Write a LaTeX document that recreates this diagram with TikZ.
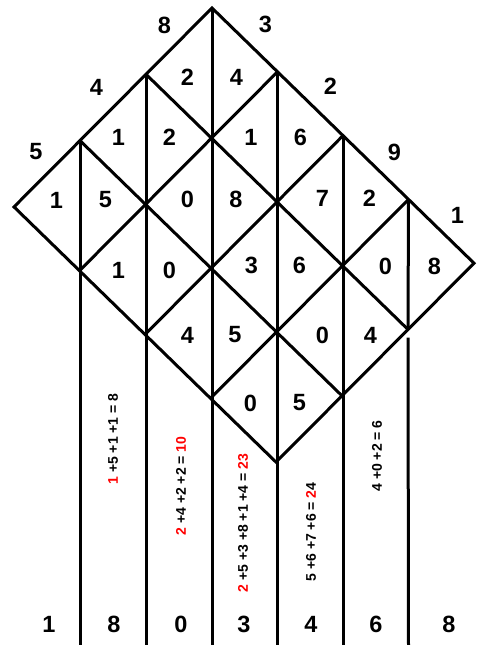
\documentclass[tikz,border=0pt]{standalone}
\usepackage{fontspec}
\setmainfont{Liberation Sans}
\begin{document}
\begin{tikzpicture}[x=1pt,y=-1pt,
  gridline/.style={line width=3pt, black},
  digit/.style={font=\fontsize{23.5}{24}\selectfont\bfseries, inner sep=0pt, text=black},
  sumtext/.style={font=\fontsize{14}{14}\selectfont\bfseries, inner sep=0pt, rotate=90, text=black}]
\useasboundingbox (0,0) rectangle (477,645);
\fill[white] (0,0) rectangle (477,645);
% lattice vertices
\foreach \i in {0,...,3}{
  \foreach \j in {0,...,4}{
    \coordinate (v-\i-\j) at ({212-66*\i+65.5*\j},{8+66.3*\i+63.8*\j});
  }
}
\coordinate (bot) at (0,647);
% outline and grid lines
\draw[gridline, line join=miter] (v-0-0) -- (v-3-0) -- (v-3-4) -- (v-0-4) -- cycle;
\foreach \i in {1,2}{\draw[gridline] (v-\i-0) -- (v-\i-4);}
\foreach \j in {1,2,3}{\draw[gridline] (v-0-\j) -- (v-3-\j);}
% vertical lines
\coordinate (e1) at (v-2-0 |- bot);
\coordinate (e2) at (v-1-0 |- bot);
\coordinate (e3) at (v-0-0 |- bot);
\coordinate (e4) at (v-0-1 |- bot);
\coordinate (e5) at (v-0-2 |- bot);
\coordinate (e6) at (v-0-3 |- bot);
\coordinate (g6) at ([yshift=-8pt]v-1-4);
\draw[gridline] (v-2-0) -- (e1);
\draw[gridline] (v-1-0) -- (e2);
\draw[gridline] (v-0-0) -- (e3);
\draw[gridline] (v-0-1) -- (e4);
\draw[gridline] (v-0-2) -- (e5);
\draw[gridline] (v-0-3) -- (v-1-4);
\draw[gridline] (g6) -- (e6);
% edge labels
\node[digit] (a1) at (164.5,25) {8};
\node[digit] (a2) at (96.5,87.5) {4};
\node[digit] (a3) at (36,152) {5};
\node[digit] (b1) at (265.5,24) {3};
\node[digit] (b2) at (330.5,86) {2};
\node[digit] (b3) at (394.5,152) {9};
\node[digit] (b4) at (457.5,215) {1};
% cell digits
\node[digit] (c00l) at (187.5,77) {2};
\node[digit] (c00r) at (236.5,77) {4};
\node[digit] (c10l) at (118.5,137.5) {1};
\node[digit] (c10r) at (169.5,137.5) {2};
\node[digit] (c20l) at (56.5,200) {1};
\node[digit] (c20r) at (105.5,200) {5};
\node[digit] (c01l) at (251,137.5) {1};
\node[digit] (c01r) at (300.5,137.5) {6};
\node[digit] (c11l) at (187.5,199.5) {0};
\node[digit] (c11r) at (236,199.5) {8};
\node[digit] (c21l) at (118.5,270) {1};
\node[digit] (c21r) at (169.5,270) {0};
\node[digit] (c02l) at (322.5,198) {7};
\node[digit] (c02r) at (369.5,198) {2};
\node[digit] (c12l) at (251.5,265) {3};
\node[digit] (c12r) at (299.5,265) {6};
\node[digit] (c22l) at (187.5,335) {4};
\node[digit] (c22r) at (235,335) {5};
\node[digit] (c03l) at (385.5,266) {0};
\node[digit] (c03r) at (434.5,266) {8};
\node[digit] (c13l) at (322.5,335) {0};
\node[digit] (c13r) at (370.5,335) {4};
\node[digit] (c23l) at (250.5,403) {0};
\node[digit] (c23r) at (299.5,403) {5};
% column sums
\node[sumtext] (s1) at (113,439) {\textcolor{red}{1} +5 +1 +1 = 8};
\node[sumtext] (s2) at (181,486) {\textcolor{red}{2} +4 +2 +2 = \textcolor{red}{10}};
\node[sumtext] (s3) at (243,523) {\textcolor{red}{2} +5 +3 +8 +1 +4 = \textcolor{red}{23}};
\node[sumtext] (s4) at (311,532) {5 +6 +7 +6 = \textcolor{red}{2}4};
\node[sumtext] (s5) at (377,456) {4 +0 +2 = 6};
% result digits
\node[digit] (r1) at (49,624) {1};
\node[digit] (r2) at (114,624) {8};
\node[digit] (r3) at (181,624) {0};
\node[digit] (r4) at (244,624) {3};
\node[digit] (r5) at (311,624) {4};
\node[digit] (r6) at (376,624) {6};
\node[digit] (r7) at (449,624) {8};
\end{tikzpicture}
\end{document}
